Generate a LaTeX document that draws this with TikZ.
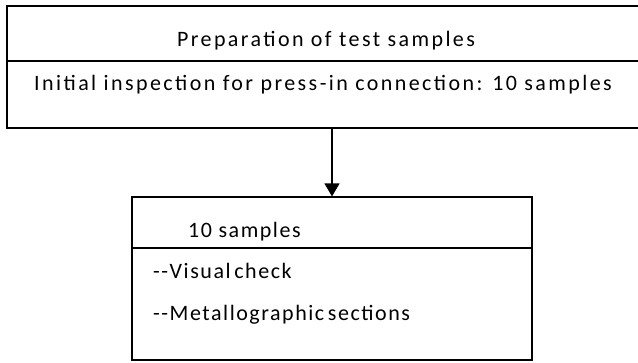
\documentclass[tikz,border=0pt]{standalone}
\usepackage{fontspec}
\setmainfont{Carlito}
\newfontfamily\boxfont[LetterSpace=7]{Carlito}
\newfontfamily\widefont[LetterSpace=11]{Carlito}
\usetikzlibrary{arrows.meta,positioning}

\begin{document}
\begin{tikzpicture}[x=1pt, y=-1pt,
  box/.style={draw, line width=1.2pt, inner sep=0pt},
  txt/.style={font=\boxfont\fontsize{22}{25}\selectfont, inner sep=0pt, anchor=base west},
  widetxt/.style={txt, font=\widefont\fontsize{22}{25}\selectfont},
  flow/.style={draw, line width=1.2pt, -{Triangle[length=13pt,width=15pt]}}
]
  \useasboundingbox (0,0) rectangle (638,362);

  % upper block, runs off the right edge
  \node[box, minimum width=640pt, minimum height=122pt] (prep) at (327,67) {};
  \draw[line width=1.2pt] (prep.west |- 0,61) -- (prep.east |- 0,61);
  \node[widetxt, anchor=base] (prephead) at (326,46) {Preparation of test samples};
  \node[widetxt] (prepline) at (34,90) {Initial inspection for press-in connection: 10 samples};

  % lower block
  \node[box, minimum width=400pt, minimum height=163pt] (samples) at (332,278.5) {};
  \draw[line width=1.2pt] (samples.west |- 0,248) -- (samples.east |- 0,248);
  \node[txt] (sampleshead) at (188,237) {10 samples};
  \node[txt] (visual) at (153,278) {-{}-Visual\,check};
  \node[txt] (metallo) at (153,320) {-{}-Metallographic\,sections};

  \draw[flow] (prep.south -| samples.north) -- (samples.north);
\end{tikzpicture}
\end{document}
